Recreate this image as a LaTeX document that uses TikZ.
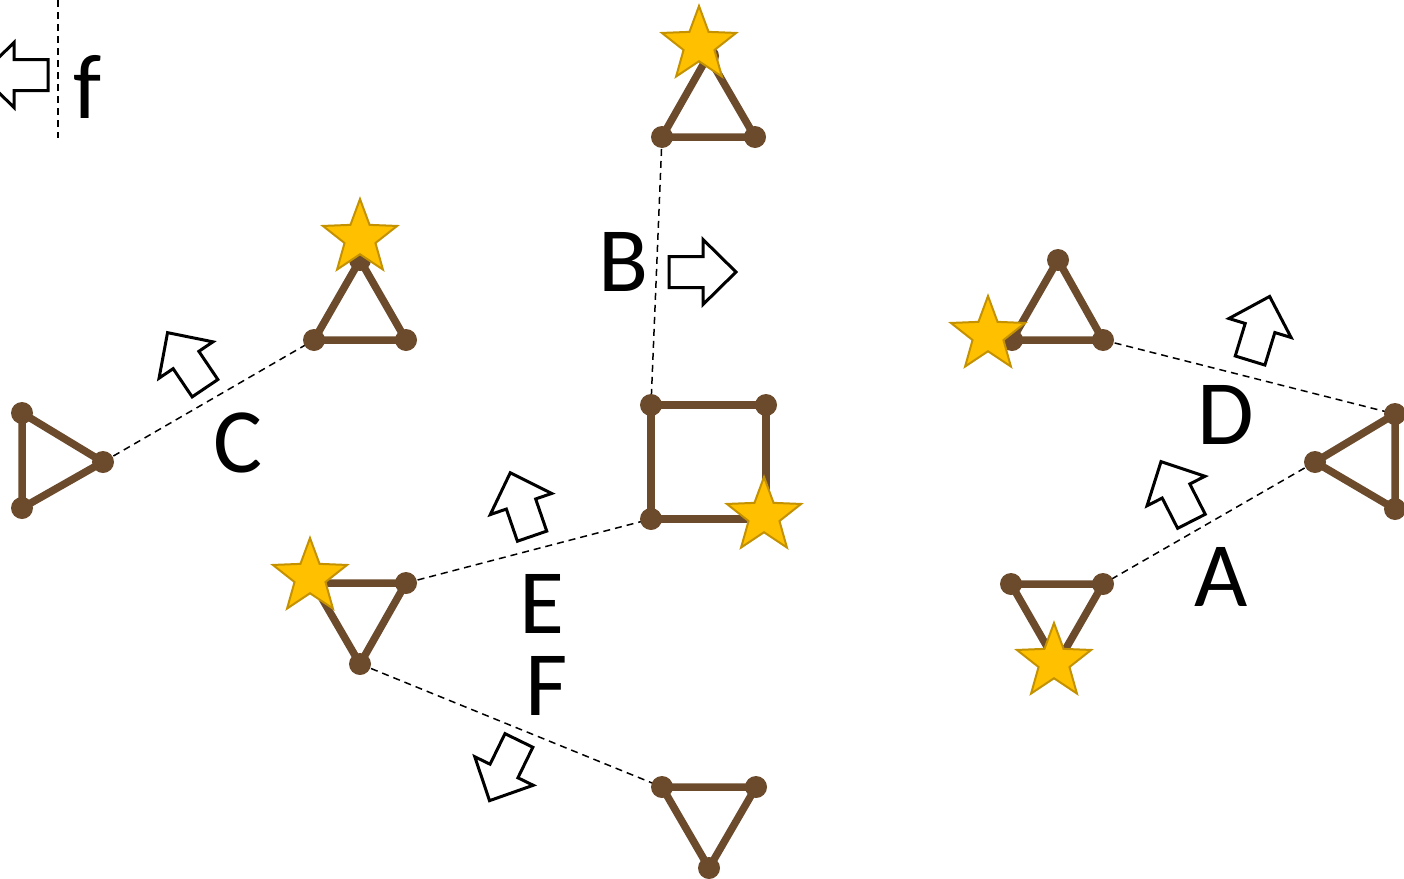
\documentclass[tikz,border=0pt]{standalone}
\usepackage{fontspec}
\setmainfont{Carlito}
\usetikzlibrary{shapes.geometric}
\definecolor{wood}{HTML}{6B4B2C}
\definecolor{stargold}{HTML}{FFC000}
\definecolor{starline}{HTML}{C49200}
\tikzset{
  edge/.style={wood, line width=7.5pt, line cap=round},
  vtx/.style={circle, fill=wood, inner sep=0pt, minimum size=22pt},
  starmark/.style={star, star points=5, star point ratio=2.4, fill=stargold, draw=starline, line width=2pt, inner sep=0pt, minimum size=78pt},
  link/.style={black, line width=1.5pt, dash pattern=on 7pt off 5pt},
  lbl/.style={inner sep=0pt, font=\fontsize{92}{100}\selectfont},
  arrowline/.style={draw=black, fill=white, line width=3pt, line join=miter},
  blockarrow/.pic={\draw[arrowline] (-34,-15.5) -- (0,-15.5) -- (0,-32.5) -- (33,0) -- (0,32.5) -- (0,15.5) -- (-34,15.5) -- cycle;}
}
\begin{document}
\begin{tikzpicture}[x=1pt,y=-1pt]
\useasboundingbox (0,0) rectangle (1404,878);
% vertices
\coordinate (t1a) at (708,56); \coordinate (t1l) at (662,137); \coordinate (t1r) at (755,137);
\coordinate (sq1) at (651,405); \coordinate (sq2) at (766,405); \coordinate (sq3) at (766,519); \coordinate (sq4) at (651,519);
\coordinate (t2a) at (360,260); \coordinate (t2l) at (314,340); \coordinate (t2r) at (406,340);
\coordinate (t3t) at (22,413); \coordinate (t3b) at (22,508); \coordinate (t3p) at (103,462);
\coordinate (t4l) at (313,583); \coordinate (t4r) at (406,583); \coordinate (t4b) at (360,664);
\coordinate (t5l) at (662,787); \coordinate (t5r) at (756,787); \coordinate (t5b) at (709,868);
\coordinate (t6a) at (1058,260); \coordinate (t6l) at (1012,340); \coordinate (t6r) at (1103,340);
\coordinate (t7t) at (1395,414); \coordinate (t7b) at (1395,509); \coordinate (t7p) at (1315,462);
\coordinate (t8l) at (1011,584); \coordinate (t8r) at (1103,584); \coordinate (t8b) at (1057,664);
\coordinate (ftop) at (58,0); \coordinate (fbot) at (58,138);
% dashed links
\draw[link] (ftop) -- (fbot);
\draw[link] (t1l) -- (sq1);
\draw[link] (t3p) -- (t2l);
\draw[link] (t4r) -- (sq4);
\draw[link] (t4b) -- (t5l);
\draw[link] (t6r) -- (t7t);
\draw[link] (t7p) -- (t8r);
% shapes
\foreach \a/\b/\c in {t1a/t1l/t1r, t2a/t2l/t2r, t3t/t3b/t3p, t4l/t4r/t4b, t5l/t5r/t5b, t6a/t6l/t6r, t7t/t7b/t7p, t8l/t8r/t8b}{
  \draw[edge] (\a) -- (\b) -- (\c) -- cycle;
  \node[vtx] at (\a) {}; \node[vtx] at (\b) {}; \node[vtx] at (\c) {};
}
\draw[edge] (sq1) -- (sq2) -- (sq3) -- (sq4) -- cycle;
\foreach \p in {sq1,sq2,sq3,sq4} \node[vtx] at (\p) {};
% stars
\node[starmark] (s1) at (699,45) {};
\node[starmark] (s2) at (360,238) {};
\node[starmark] (s3) at (764,516) {};
\node[starmark] (s4) at (310,577) {};
\node[starmark] (s5) at (988,335) {};
\node[starmark] (s6) at (1054,662) {};
% block arrows
\pic[rotate=180] at (14,75) {blockarrow};
\pic at (703,272) {blockarrow};
\pic[rotate=124] at (186,360) {blockarrow};
\pic[rotate=73] at (1260,328) {blockarrow};
\pic[rotate=117] at (1176,491) {blockarrow};
\pic[rotate=109] at (521,504) {blockarrow};
\pic[rotate=244] at (504,771) {blockarrow};
% labels
\node[lbl] (lf) at (88,87) {f};
\node[lbl] (lB) at (624,262) {B};
\node[lbl] (lC) at (238,443) {C};
\node[lbl] (lD) at (1226,415) {D};
\node[lbl] (lA) at (1221,577) {A};
\node[lbl] (lE) at (542,604) {E};
\node[lbl] (lF) at (547,686) {F};
\end{tikzpicture}
\end{document}
